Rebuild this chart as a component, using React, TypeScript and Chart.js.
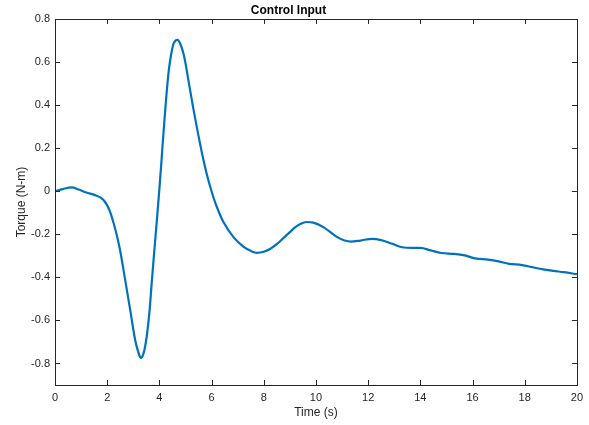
import React, { useEffect, useRef } from "react";
import { Chart, registerables } from "chart.js";

Chart.register(...registerables);

const timeS = [
  0, 0.3, 0.64, 0.9, 1.2, 1.53, 1.75, 1.92, 2.1, 2.24, 2.38, 2.49, 2.68, 2.88, 3.07, 3.15, 3.25, 3.3,
  3.36, 3.44, 3.52, 3.62, 3.71, 3.8, 3.9, 4.0, 4.08, 4.15, 4.22, 4.28, 4.35, 4.41, 4.48, 4.54, 4.62, 4.7,
  4.8, 4.92, 5.0, 5.11, 5.3, 5.43, 5.56, 5.69, 5.82, 5.94, 6.07, 6.2, 6.45, 6.84, 7.22, 7.5, 7.73, 8.0,
  8.24, 8.5, 8.75, 9.0, 9.2, 9.4, 9.65, 9.9, 10.3, 10.8, 11.1, 11.35, 11.7, 12.15, 12.5, 12.9, 13.3,
  13.7, 14.0, 14.4, 14.8, 15.3, 15.7, 16.1, 16.6, 17.0, 17.4, 17.9, 18.3, 18.7, 19.1, 19.5, 20,
];
const torque = [
  0.0, 0.01, 0.018, 0.008, -0.006, -0.018, -0.03, -0.05, -0.092, -0.145, -0.21, -0.272, -0.405, -0.55,
  -0.69, -0.73, -0.768, -0.775, -0.765, -0.73, -0.67, -0.56, -0.42, -0.285, -0.14, 0.01, 0.14, 0.26,
  0.37, 0.46, 0.55, 0.605, 0.655, 0.685, 0.7, 0.703, 0.685, 0.641, 0.595, 0.517, 0.385, 0.3, 0.22, 0.145,
  0.078, 0.024, -0.028, -0.072, -0.142, -0.213, -0.257, -0.277, -0.286, -0.281, -0.268, -0.246, -0.218,
  -0.19, -0.168, -0.152, -0.143, -0.146, -0.168, -0.212, -0.229, -0.234, -0.229, -0.221, -0.227,
  -0.243, -0.26, -0.263, -0.263, -0.275, -0.287, -0.291, -0.298, -0.312, -0.318, -0.326, -0.337,
  -0.343, -0.353, -0.363, -0.37, -0.376, -0.385,
];
const xTicks = [0, 2, 4, 6, 8, 10, 12, 14, 16, 18, 20];
const yTicks = [-0.8, -0.6, -0.4, -0.2, 0, 0.2, 0.4, 0.6, 0.8];

const FONT = "'Liberation Sans', Arial, Helvetica, sans-serif";
const AXIS = "#262626";

const boxTicks = {
  id: "boxTicks",
  afterDatasetsDraw(chart: any) {
    const { ctx, chartArea, scales } = chart;
    const { left, right, top, bottom } = chartArea;
    const len = 5;
    ctx.save();
    ctx.strokeStyle = AXIS;
    ctx.lineWidth = 1;
    ctx.beginPath();
    for (const v of xTicks) {
      const px = Math.round(scales.x.getPixelForValue(v)) + 0.5;
      ctx.moveTo(px, bottom);
      ctx.lineTo(px, bottom - len);
      ctx.moveTo(px, top);
      ctx.lineTo(px, top + len);
    }
    for (const v of yTicks) {
      const py = Math.round(scales.y.getPixelForValue(v)) + 0.5;
      ctx.moveTo(left, py);
      ctx.lineTo(left + len, py);
      ctx.moveTo(right, py);
      ctx.lineTo(right - len, py);
    }
    ctx.stroke();
    ctx.strokeRect(Math.round(left) + 0.5, Math.round(top) + 0.5, Math.round(right - left), Math.round(bottom - top));
    ctx.restore();
  },
};

export default function App() {
  const ref = useRef<HTMLCanvasElement | null>(null);
  useEffect(() => {
    if (!ref.current) return;
    const data = timeS.map((t, i) => ({ x: t, y: torque[i] }));
    const chart = new Chart(ref.current, {
      type: "line",
      data: {
        datasets: [
          {
            data,
            borderColor: "#0072BD",
            borderWidth: 2.2,
            pointRadius: 0,
            cubicInterpolationMode: "monotone",
            fill: false,
          },
        ],
      },
      options: {
        animation: false,
        responsive: false,
        maintainAspectRatio: false,
        layout: { padding: { left: 0, right: 12, top: 0, bottom: 0 } },
        plugins: {
          legend: { display: false },
          tooltip: { enabled: false },
          title: {
            display: true,
            text: "Control Input",
            color: "#000",
            font: { family: FONT, size: 12, weight: "bold" },
            padding: { top: 3, bottom: 1.6 },
          },
        },
        scales: {
          x: {
            type: "linear",
            min: 0,
            max: 20,
            afterFit: (s: any) => {
              s.height = 40;
            },
            afterBuildTicks: (s: any) => {
              s.ticks = xTicks.map((v) => ({ value: v }));
            },
            grid: { display: false, drawTicks: false },
            border: { display: false },
            ticks: {
              color: AXIS,
              font: { family: FONT, size: 11 },
              padding: 6,
              maxRotation: 0,
              callback: (v: any) => String(v),
            },
            title: {
              display: true,
              text: "Time (s)",
              color: AXIS,
              font: { family: FONT, size: 12 },
              padding: { top: 0, bottom: 4.8 },
            },
          },
          y: {
            type: "linear",
            min: -0.9,
            max: 0.8,
            afterFit: (s: any) => {
              s.width = 55;
            },
            afterBuildTicks: (s: any) => {
              s.ticks = yTicks.map((v) => ({ value: v }));
            },
            grid: { display: false, drawTicks: false },
            border: { display: false },
            ticks: {
              color: AXIS,
              font: { family: FONT, size: 11 },
              padding: 5,
              callback: (v: any) => {
                const n = Math.round(Number(v) * 10) / 10;
                return n === 0 ? "0" : n.toFixed(1);
              },
            },
            title: {
              display: true,
              text: "Torque (N-m)",
              color: AXIS,
              font: { family: FONT, size: 12 },
              padding: { top: 14.5, bottom: 0 },
            },
          },
        },
      },
      plugins: [boxTicks],
    });
    return () => chart.destroy();
  }, []);
  return (
    <div style={{ position: "fixed", left: 0, top: 0, width: 589, height: 425, background: "#fff" }}>
      <canvas ref={ref} width={589} height={425} style={{ width: 589, height: 425, display: "block" }} />
    </div>
  );
}
